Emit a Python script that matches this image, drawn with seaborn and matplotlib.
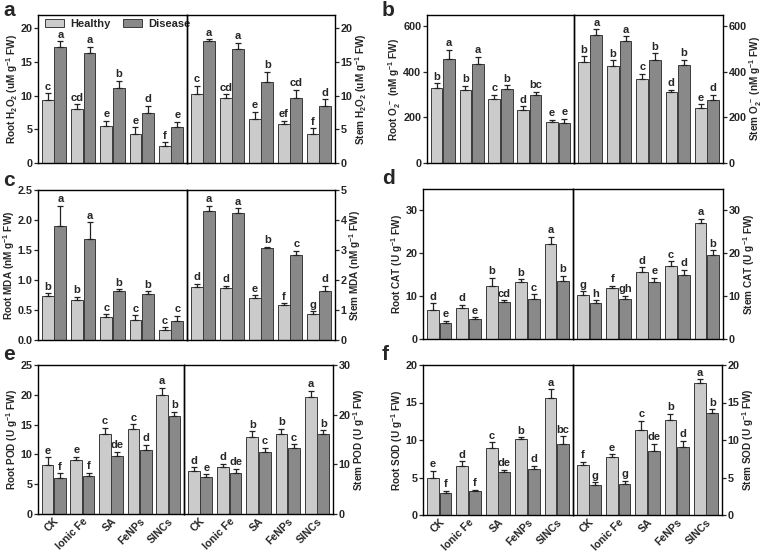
import numpy as np
import pandas as pd
import matplotlib
matplotlib.use("Agg")
import matplotlib.pyplot as plt
import seaborn as sns
from matplotlib.patches import Patch

treatments = ['CK', 'Ionic Fe', 'SA', 'FeNPs', 'SINCs']
groups = ['Healthy', 'Disease']

# a - H2O2
root_h2o2_h = [9.4, 8.1, 5.5, 4.3, 2.6]
root_h2o2_d = [17.2, 16.3, 11.1, 7.4, 5.3]
root_h2o2_he = [1.0, 0.6, 0.8, 1.0, 0.5]
root_h2o2_de = [0.9, 1.0, 1.1, 1.1, 0.8]
root_h2o2_hl = ['c', 'cd', 'e', 'e', 'f']
root_h2o2_dl = ['a', 'a', 'b', 'd', 'e']
stem_h2o2_h = [10.3, 9.6, 6.5, 5.8, 4.3]
stem_h2o2_d = [18.1, 17.0, 12.0, 9.6, 8.4]
stem_h2o2_he = [1.2, 0.6, 1.1, 0.5, 0.9]
stem_h2o2_de = [0.3, 0.9, 1.6, 1.3, 1.1]
stem_h2o2_hl = ['c', 'cd', 'e', 'ef', 'f']
stem_h2o2_dl = ['a', 'a', 'b', 'cd', 'd']

# b - O2.-
root_o2_h = [329, 322, 281, 233, 180]
root_o2_d = [457, 436, 325, 300, 176]
root_o2_he = [22, 18, 19, 16, 10]
root_o2_de = [41, 30, 16, 12, 19]
root_o2_hl = ['b', 'b', 'c', 'd', 'e']
root_o2_dl = ['a', 'a', 'b', 'bc', 'e']
stem_o2_h = [443, 426, 367, 310, 241]
stem_o2_d = [561, 537, 451, 432, 278]
stem_o2_he = [25, 25, 25, 12, 18]
stem_o2_de = [27, 19, 32, 22, 22]
stem_o2_hl = ['b', 'b', 'c', 'd', 'e']
stem_o2_dl = ['a', 'a', 'b', 'b', 'd']

# c - MDA
root_mda_h = [0.73, 0.66, 0.39, 0.34, 0.16]
root_mda_d = [1.90, 1.69, 0.81, 0.77, 0.32]
root_mda_he = [0.05, 0.06, 0.04, 0.07, 0.05]
root_mda_de = [0.34, 0.27, 0.04, 0.04, 0.08]
root_mda_hl = ['b', 'b', 'c', 'c', 'c']
root_mda_dl = ['a', 'a', 'b', 'b', 'c']
stem_mda_h = [1.76, 1.73, 1.39, 1.16, 0.87]
stem_mda_d = [4.29, 4.22, 3.06, 2.82, 1.62]
stem_mda_he = [0.11, 0.07, 0.10, 0.07, 0.09]
stem_mda_de = [0.19, 0.17, 0.05, 0.16, 0.18]
stem_mda_hl = ['d', 'd', 'e', 'f', 'g']
stem_mda_dl = ['a', 'a', 'b', 'c', 'd']

# d - CAT
root_cat_h = [6.7, 7.25, 12.3, 13.3, 22.1]
root_cat_d = [3.7, 4.7, 8.6, 9.4, 13.6]
root_cat_he = [1.6, 0.75, 2.0, 0.7, 1.8]
root_cat_de = [0.6, 0.4, 0.4, 1.0, 1.1]
root_cat_hl = ['d', 'd', 'b', 'b', 'a']
root_cat_dl = ['e', 'e', 'cd', 'c', 'b']
stem_cat_h = [10.3, 11.8, 15.6, 17.1, 27.0]
stem_cat_d = [8.3, 9.35, 13.3, 15.0, 19.6]
stem_cat_he = [0.8, 0.6, 1.2, 1.1, 1.1]
stem_cat_de = [0.7, 0.75, 1.0, 1.1, 1.1]
stem_cat_hl = ['g', 'f', 'd', 'c', 'a']
stem_cat_dl = ['h', 'gh', 'e', 'd', 'b']

# e - POD
root_pod_h = [8.3, 9.05, 13.5, 14.2, 20.05]
root_pod_d = [6.1, 6.4, 9.8, 10.7, 16.5]
root_pod_he = [1.2, 0.55, 1.0, 0.9, 1.15]
root_pod_de = [0.7, 0.5, 0.65, 0.9, 0.65]
root_pod_hl = ['e', 'e', 'c', 'c', 'a']
root_pod_dl = ['f', 'f', 'de', 'd', 'b']
stem_pod_h = [8.7, 9.4, 15.6, 16.2, 23.6]
stem_pod_d = [7.4, 8.2, 12.4, 13.3, 16.2]
stem_pod_he = [0.7, 0.7, 1.1, 1.0, 1.2]
stem_pod_de = [0.65, 0.9, 0.9, 0.7, 0.7]
stem_pod_hl = ['d', 'd', 'b', 'b', 'a']
stem_pod_dl = ['e', 'de', 'c', 'c', 'b']

# f - SOD
root_sod_h = [5.0, 6.6, 8.9, 10.1, 15.6]
root_sod_d = [2.9, 3.2, 5.8, 6.2, 9.5]
root_sod_he = [0.9, 0.6, 0.8, 0.3, 1.15]
root_sod_de = [0.35, 0.2, 0.2, 0.4, 1.0]
root_sod_hl = ['e', 'd', 'c', 'b', 'a']
root_sod_dl = ['f', 'f', 'de', 'd', 'bc']
stem_sod_h = [6.7, 7.7, 11.4, 12.7, 17.6]
stem_sod_d = [4.0, 4.2, 8.6, 9.1, 13.6]
stem_sod_he = [0.4, 0.4, 1.2, 0.8, 0.5]
stem_sod_de = [0.35, 0.4, 0.9, 0.8, 0.5]
stem_sod_hl = ['f', 'e', 'c', 'b', 'a']
stem_sod_dl = ['g', 'g', 'de', 'd', 'b']

sns.set_theme(style="white")
plt.rcParams['font.family'] = ['Liberation Sans', 'DejaVu Sans']
plt.rcParams['font.weight'] = 'bold'
plt.rcParams['mathtext.fontset'] = 'custom'
plt.rcParams['mathtext.rm'] = 'Liberation Sans:bold'
plt.rcParams['mathtext.it'] = 'Liberation Sans:bold'
plt.rcParams['mathtext.bf'] = 'Liberation Sans:bold'
plt.rcParams['mathtext.default'] = 'rm'

palette = {'Healthy': '#cbcbcb', 'Disease': '#898989'}
W, H = 765, 552
fig = plt.figure(figsize=(W / 100, H / 100), dpi=100)


def box(l, r, t, b):
    return [l / W, 1 - b / H, (r - l) / W, (b - t) / H]


def draw_half(ax, h, d, he, de, hl, dl, ylim, ticks, ylabel, side, xlabels):
    df = pd.DataFrame({'Treatment': treatments * 2,
                       'Group': ['Healthy'] * 5 + ['Disease'] * 5,
                       'value': h + d})
    sns.barplot(data=df, x='Treatment', y='value', hue='Group', palette=palette,
                hue_order=groups, order=treatments, ax=ax, width=0.86, gap=0.06,
                edgecolor='#3a3a3a', linewidth=0.7, errorbar=None, legend=False,
                saturation=1)
    span = ylim[1] - ylim[0]
    for cont, vals, errs, lets in zip(ax.containers, [h, d], [he, de], [hl, dl]):
        xs = [p.get_x() + p.get_width() / 2 for p in cont.patches]
        ax.errorbar(xs, vals, yerr=[np.zeros(5), errs], fmt='none', ecolor='#222',
                    elinewidth=0.9, capsize=2.5, capthick=0.9)
        for x, v, e, s in zip(xs, vals, errs, lets):
            ax.text(x, v + e + span * 0.01, s, ha='center', va='bottom',
                    fontsize=8, fontweight='bold')
    ax.set_ylim(*ylim)
    ax.set_yticks(ticks)
    ax.set_xlim(-0.55, 4.55)
    ax.set_xlabel('')
    ax.set_ylabel(ylabel, fontsize=7.2, fontweight='bold', labelpad=0.5)
    for s in ax.spines.values():
        s.set_linewidth(1.0)
        s.set_color('black')
    ax.tick_params(axis='y', direction='out', length=3, width=0.9, labelsize=7.8,
                   pad=1, left=(side == 'left'), right=(side == 'right'),
                   labelleft=(side == 'left'), labelright=(side == 'right'))
    for lab in ax.get_yticklabels():
        lab.set_fontweight('bold')
    if side == 'right':
        ax.yaxis.set_label_position('right')
        ax.patch.set_visible(False)
    ax.tick_params(axis='x', length=0, pad=1.5)
    if xlabels:
        ax.set_xticks(range(5))
        ax.set_xticklabels(treatments, rotation=45, ha='right',
                           rotation_mode='anchor', fontsize=7.6, fontweight='bold')
    else:
        ax.set_xticklabels([])


unit_uM = r' (uM g$^{-1}$ FW)'
unit_nM = r' (nM g$^{-1}$ FW)'
unit_U = r' (U g$^{-1}$ FW)'

panels = [
    ('a', (38, 187, 335, 15, 163),
     (root_h2o2_h, root_h2o2_d, root_h2o2_he, root_h2o2_de, root_h2o2_hl, root_h2o2_dl,
      (0, 22), [0, 5, 10, 15, 20], r'Root H$_2$O$_2$' + unit_uM),
     (stem_h2o2_h, stem_h2o2_d, stem_h2o2_he, stem_h2o2_de, stem_h2o2_hl, stem_h2o2_dl,
      (0, 22), [0, 5, 10, 15, 20], r'Stem H$_2$O$_2$' + unit_uM), False),
    ('b', (427, 574, 723, 15, 163),
     (root_o2_h, root_o2_d, root_o2_he, root_o2_de, root_o2_hl, root_o2_dl,
      (0, 650), [0, 200, 400, 600], r'Root O$_2^{\cdot-}$' + unit_nM),
     (stem_o2_h, stem_o2_d, stem_o2_he, stem_o2_de, stem_o2_hl, stem_o2_dl,
      (0, 650), [0, 200, 400, 600], r'Stem O$_2^{\cdot-}$' + unit_nM), False),
    ('c', (38, 187, 335, 190, 340),
     (root_mda_h, root_mda_d, root_mda_he, root_mda_de, root_mda_hl, root_mda_dl,
      (0, 2.5), [0.0, 0.5, 1.0, 1.5, 2.0, 2.5], 'Root MDA' + unit_nM),
     (stem_mda_h, stem_mda_d, stem_mda_he, stem_mda_de, stem_mda_hl, stem_mda_dl,
      (0, 5), [0, 1, 2, 3, 4, 5], 'Stem MDA' + unit_nM), False),
    ('d', (423, 573, 723, 189, 339),
     (root_cat_h, root_cat_d, root_cat_he, root_cat_de, root_cat_hl, root_cat_dl,
      (0, 35), [0, 10, 20, 30], 'Root CAT' + unit_U),
     (stem_cat_h, stem_cat_d, stem_cat_he, stem_cat_de, stem_cat_hl, stem_cat_dl,
      (0, 35), [0, 10, 20, 30], 'Stem CAT' + unit_U), False),
    ('e', (38, 184, 333, 365, 514),
     (root_pod_h, root_pod_d, root_pod_he, root_pod_de, root_pod_hl, root_pod_dl,
      (0, 25), [0, 5, 10, 15, 20, 25], 'Root POD' + unit_U),
     (stem_pod_h, stem_pod_d, stem_pod_he, stem_pod_de, stem_pod_hl, stem_pod_dl,
      (0, 30), [0, 10, 20, 30], 'Stem POD' + unit_U), True),
    ('f', (423, 573, 722, 365, 515),
     (root_sod_h, root_sod_d, root_sod_he, root_sod_de, root_sod_hl, root_sod_dl,
      (0, 20), [0, 5, 10, 15, 20], 'Root SOD' + unit_U),
     (stem_sod_h, stem_sod_d, stem_sod_he, stem_sod_de, stem_sod_hl, stem_sod_dl,
      (0, 20), [0, 5, 10, 15, 20], 'Stem SOD' + unit_U), True),
]

for letter, (l, m, r, t, b), root, stem, xl in panels:
    ax1 = fig.add_axes(box(l, m, t, b))
    ax2 = fig.add_axes(box(m, r, t, b))
    draw_half(ax1, *root, 'left', xl)
    draw_half(ax2, *stem, 'right', xl)
    lx = 3 if l < 300 else 382
    ly = 10 if t < 50 else t - 10
    fig.text(lx / W, 1 - ly / H, letter, fontsize=15, fontweight='bold',
             ha='left', va='center')
    if letter == 'a':
        handles = [Patch(facecolor=palette[g], edgecolor='#3a3a3a', linewidth=0.7) for g in groups]
        ax1.legend(handles, groups, loc='upper left', ncol=2, frameon=False,
                   handlelength=1.7, handleheight=0.75, columnspacing=1.1,
                   handletextpad=0.6, borderaxespad=0.2, bbox_to_anchor=(0.0, 1.02),
                   prop={'weight': 'bold', 'size': 8})

fig.savefig('out.png', dpi=100)
